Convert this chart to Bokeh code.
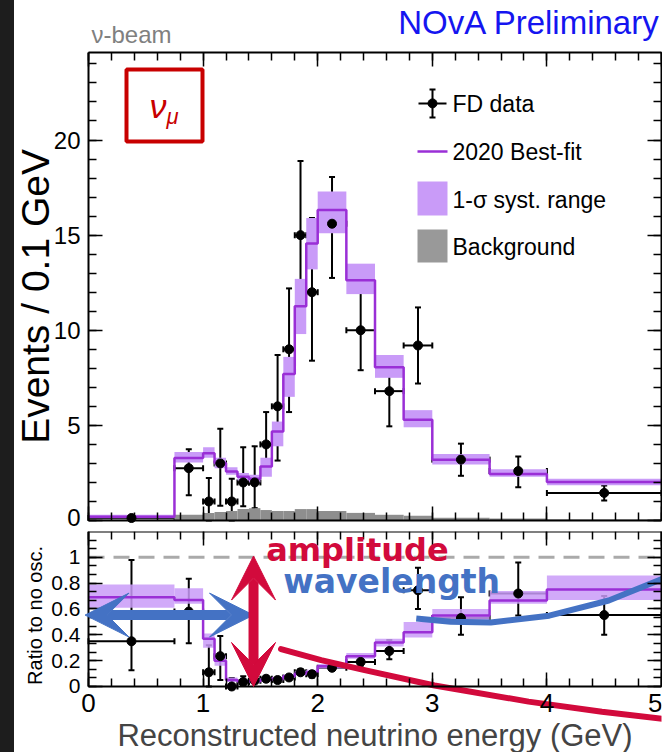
import numpy as np
from bokeh.plotting import figure
from bokeh.models import (ColumnDataSource, Whisker, TeeHead, Arrow, VeeHead, Label,
                          LinearAxis, FixedTicker, Div)
from bokeh.core.properties import value
from bokeh.layouts import row, column
from bokeh.embed import file_html
from bokeh.resources import INLINE

# ---------------- data ----------------
bin_edges = [0.0, 0.75, 1.0, 1.1, 1.2, 1.3, 1.4, 1.5, 1.6, 1.7, 1.8, 1.9, 2.0,
             2.25, 2.5, 2.75, 3.0, 3.5, 4.0, 5.0]
bestfit = [0.2, 3.28, 3.54, 3.02, 2.58, 2.3, 2.2, 2.84, 4.68, 7.7, 11.26, 14.56,
           16.32, 12.63, 8.05, 5.3, 3.19, 2.44, 2.02]
syst_lo = [0.12, 3.05, 3.3, 2.75, 2.4, 2.1, 2.0, 2.3, 3.9, 6.5, 9.8, 13.2,
           15.1, 11.9, 7.5, 4.9, 2.95, 2.3, 1.85]
syst_hi = [0.3, 3.6, 3.85, 3.3, 2.8, 2.5, 2.4, 3.3, 5.2, 8.6, 12.7, 15.9,
           17.3, 13.5, 8.7, 5.8, 3.5, 2.7, 2.2]
background = [0.05, 0.3, 0.4, 0.45, 0.5, 0.6, 0.65, 0.55, 0.5, 0.5, 0.6, 0.6,
              0.5, 0.4, 0.3, 0.25, 0.15, 0.1, 0.05]
data_val = [0.13, 2.75, 1.0, 3.0, 1.0, 2.0, 2.0, 4.0, 6.0, 9.0, 15.0, 12.0,
            15.6, 10.0, 6.8, 9.2, 3.2, 2.6, 1.45]
data_lo = [0.11, 1.33, 0.0, 0.78, 0.0, 0.75, 0.65, 2.4, 3.15, 5.7, 10.8, 8.4,
           12.75, 7.9, 4.95, 7.2, 2.35, 1.75, 1.05]
data_hi = [0.17, 3.75, 2.23, 4.82, 2.2, 3.85, 3.9, 5.7, 8.7, 12.2, 18.9, 15.9,
           18.05, 12.1, 8.6, 11.2, 4.04, 3.37, 1.84]

ratio_fit = [0.69, 0.67, 0.37, 0.20, 0.05, 0.04, 0.04, 0.05, 0.06, 0.08, 0.10, 0.11,
             0.157, 0.235, 0.34, 0.42, 0.55, 0.665, 0.75]
ratio_syst_lo = [0.61, 0.64, 0.30, 0.16, 0.035, 0.03, 0.03, 0.04, 0.045, 0.065, 0.085,
                 0.095, 0.14, 0.215, 0.31, 0.38, 0.50, 0.64, 0.67]
ratio_syst_hi = [0.79, 0.76, 0.41, 0.24, 0.07, 0.055, 0.055, 0.065, 0.075, 0.095, 0.12,
                 0.13, 0.175, 0.26, 0.37, 0.50, 0.60, 0.74, 0.86]
ratio_val = [0.35, 0.58, 0.11, 0.235, 0.0, 0.035, 0.045, 0.06, 0.05, 0.07, 0.11, 0.095,
             0.145, 0.19, 0.275, 0.745, 0.53, 0.72, 0.553]
ratio_lo = [0.125, 0.335, 0.0, 0.05, 0.0, 0.01, 0.03, 0.04, 0.035, 0.05, 0.09, 0.07,
            0.13, 0.16, 0.21, 0.60, 0.40, 0.55, 0.40]
ratio_hi = [0.98, 0.835, 0.32, 0.39, 0.065, 0.08, 0.06, 0.08, 0.07, 0.09, 0.135, 0.12,
            0.16, 0.23, 0.36, 0.92, 0.69, 0.96, 0.70]

# annotation curves (in GeV / ratio units)
amp_curve_x = [1.68, 2.03, 2.38, 3.02, 3.84, 4.48, 5.02]
amp_curve_y = [0.29, 0.204, 0.133, 0.008, -0.117, -0.196, -0.251]
wl_curve_x = [2.86, 3.16, 3.51, 4.02, 4.54, 5.02]
wl_curve_y = [0.527, 0.501, 0.496, 0.548, 0.666, 0.838]

x_major = [0, 1, 2, 3, 4, 5]
y_major_top = [0, 5, 10, 15, 20]
y_major_bot = [0, 0.2, 0.4, 0.6, 0.8, 1.0]

# ---------------- style ----------------
PURPLE = "#9a2fd6"
BAND = "#c99bf8"
GRAY = "#8e8e8e"
RED = "#d20a3c"
BLUE = "#4472c4"
FONT = "Liberation Sans"
PXU = 114.6            # pixels per GeV
FRAME_LEFT = 14 + 4    # page x where every frame starts
X0 = -(88 - FRAME_LEFT) / PXU   # so that E = 0 falls at page x = 88
TOP_PXV = 19.02        # pixels per event unit in the top panel

left = np.array(bin_edges[:-1])
right = np.array(bin_edges[1:])
centers = (left + right) / 2


def step_xy(edges, vals):
    xs, ys = [], []
    for i, v in enumerate(vals):
        xs += [edges[i], edges[i + 1]]
        ys += [v, v]
    return xs, ys


def style_axis(ax, label_size=None, ticks=None):
    ax.axis_line_width = 2
    ax.axis_line_color = "black"
    ax.major_tick_in = 14
    ax.major_tick_out = 0
    ax.minor_tick_in = 8
    ax.minor_tick_out = 0
    ax.major_tick_line_width = 1.5
    ax.minor_tick_line_width = 1.5
    ax.major_tick_line_color = "black"
    ax.minor_tick_line_color = "black"
    if label_size is None:
        ax.major_label_overrides = {t: "" for t in ticks}
        ax.major_label_text_font_size = "2px"
        ax.major_label_standoff = 0
    else:
        ax.major_label_text_font_size = label_size
        ax.major_label_text_font = FONT
        ax.major_label_text_color = "black"


def base_fig(height, y_range, top, bottom):
    f = figure(width=648, height=height, x_range=(X0, 5), y_range=y_range, title=None,
               output_backend="svg", toolbar_location=None,
               x_axis_location=None, y_axis_location=None,
               min_border_left=4, min_border_right=1, min_border_top=top,
               min_border_bottom=bottom)
    f.grid.visible = False
    f.outline_line_color = None
    f.background_fill_color = "white"
    f.border_fill_color = "white"
    return f


x_ticker = FixedTicker(ticks=x_major, minor_ticks=[k * 0.2 for k in range(26)])
ytop_ticker = FixedTicker(ticks=y_major_top, minor_ticks=list(range(25)))
ybot_ticker = FixedTicker(ticks=y_major_bot, minor_ticks=[k * 0.2 / 3 for k in range(18)])


def tx(px):
    return (px - 88) / PXU


# ---------------- header strip (texts above the frame) ----------------
ph = base_fig(47, (0, 47), 0, 0)
ph.add_layout(Label(x=tx(91), y=47 - 33.5, text="ν-beam", text_font=FONT,
                    text_font_size="24px", text_color="#808080",
                    text_baseline="middle"))
ph.add_layout(Label(x=tx(660), y=47 - 22, text="NOvA Preliminary", text_font=FONT,
                    text_font_size="33px", text_color="#1515f0",
                    text_baseline="middle", text_align="right"))

# ---------------- top panel ----------------
# page y 47..531; frame 52..531; events = 0 at page y 520
p1 = base_fig(484, (-(531 - 520) / TOP_PXV, 24.6), 5, 0)


def ty(py):
    return (520 - py) / TOP_PXV


ax = LinearAxis(ticker=x_ticker, fixed_location=0, bounds=(0, 5))
style_axis(ax, None, x_major)
p1.add_layout(ax, "below")
ax = LinearAxis(ticker=x_ticker, bounds=(0, 5))
style_axis(ax, None, x_major)
p1.add_layout(ax, "above")
ax = LinearAxis(ticker=ytop_ticker, fixed_location=0, bounds=(0, 24.6))
style_axis(ax, None, y_major_top)
p1.add_layout(ax, "left")
ax = LinearAxis(ticker=ytop_ticker, bounds=(0, 24.6))
style_axis(ax, None, y_major_top)
p1.add_layout(ax, "right")

# tick labels of the event axis (the lowest one nudged up a little to stay in view)
ytop_label_pos = [max(v, 0.16) for v in y_major_top]
p1.text(x=[tx(80)] * len(y_major_top), y=ytop_label_pos,
        text=[f"{v:g}" for v in y_major_top], text_font=value(FONT),
        text_font_size="24px", text_align="right", text_baseline="middle",
        text_color="black")
p1.add_layout(Label(x=tx(35), y=ty(296), text="Events / 0.1 GeV", text_font=FONT,
                    text_font_size="39px", text_color="black", angle=np.pi / 2,
                    text_align="center", text_baseline="middle"))

p1.quad(left=left, right=right, bottom=0, top=background, fill_color=GRAY,
        line_color=None)
p1.quad(left=left, right=right, bottom=syst_lo, top=syst_hi, fill_color=BAND,
        line_color=None)
sx_, sy_ = step_xy(bin_edges, bestfit)
p1.line(sx_, sy_, line_color=PURPLE, line_width=2.5)

src1 = ColumnDataSource(dict(x=centers, y=data_val, lo=data_lo, hi=data_hi,
                             xl=left, xr=right))
p1.add_layout(Whisker(source=src1, base="x", lower="lo", upper="hi", dimension="height",
                      line_color="black", line_width=2,
                      upper_head=TeeHead(size=6, line_width=2),
                      lower_head=TeeHead(size=6, line_width=2)))
p1.add_layout(Whisker(source=src1, base="y", lower="xl", upper="xr", dimension="width",
                      line_color="black", line_width=2,
                      upper_head=TeeHead(size=6, line_width=2),
                      lower_head=TeeHead(size=6, line_width=2)))
p1.scatter("x", "y", source=src1, size=9, color="black")

# nu_mu box
p1.quad(left=[tx(126)], right=[tx(202)], bottom=[ty(141)], top=[ty(69)],
        fill_color=None, line_color="#c80000", line_width=4)
p1.add_layout(Label(x=tx(149), y=ty(106), text="ν", text_font=FONT,
                    text_font_style="italic", text_font_size="34px",
                    text_color="#c80000", text_baseline="middle"))
p1.add_layout(Label(x=tx(166), y=ty(116), text="μ", text_font=FONT,
                    text_font_style="italic", text_font_size="22px",
                    text_color="#c80000", text_baseline="middle"))

# legend
leg_src = ColumnDataSource(dict(x=[tx(432)], y=[ty(103)], lo=[ty(117)], hi=[ty(89)],
                                xl=[tx(418)], xr=[tx(446)]))
p1.add_layout(Whisker(source=leg_src, base="x", lower="lo", upper="hi", dimension="height",
                      line_color="black", line_width=2,
                      upper_head=TeeHead(size=6, line_width=2),
                      lower_head=TeeHead(size=6, line_width=2)))
p1.add_layout(Whisker(source=leg_src, base="y", lower="xl", upper="xr", dimension="width",
                      line_color="black", line_width=2, upper_head=None, lower_head=None))
p1.scatter("x", "y", source=leg_src, size=9, color="black")
p1.line([tx(417), tx(447)], [ty(151), ty(151)], line_color=PURPLE, line_width=2.5)
p1.quad(left=[tx(417)], right=[tx(447)], bottom=[ty(215)], top=[ty(181)],
        fill_color=BAND, line_color=None)
p1.quad(left=[tx(417)], right=[tx(447)], bottom=[ty(262)], top=[ty(229)],
        fill_color="#999999", line_color=None)
for txt, py in (("FD data", 104), ("2020 Best-fit", 152), ("1-σ syst. range", 200),
                ("Background", 247)):
    p1.add_layout(Label(x=tx(452), y=ty(py), text=txt, text_font=FONT,
                        text_font_size="23px", text_color="black",
                        text_baseline="middle"))

# ---------------- bottom panel ----------------
# page y 531..752; frame 531..752; ratio 0 at page y 686, ratio 1 near 557
p2 = base_fig(221, (-0.511, 1.2), 0, 0)

xb = LinearAxis(ticker=x_ticker, fixed_location=0, bounds=(0, 5))
style_axis(xb, "26px")
xb.major_label_standoff = 8
xb.axis_label = "Reconstructed neutrino energy (GeV)"
xb.axis_label_text_font = FONT
xb.axis_label_text_font_size = "31px"
xb.axis_label_text_font_style = "normal"
xb.axis_label_standoff = 2
p2.add_layout(xb, "below")
ax = LinearAxis(ticker=ybot_ticker, fixed_location=0, bounds=(0, 1.2))
style_axis(ax, None, y_major_bot)
p2.add_layout(ax, "left")
ax = LinearAxis(ticker=x_ticker, fixed_location=1.2, bounds=(0, 5))
style_axis(ax, None, x_major)
p2.add_layout(ax, "above")
ax = LinearAxis(ticker=ybot_ticker, bounds=(0, 1.2))
style_axis(ax, None, y_major_bot)
p2.add_layout(ax, "right")

p2.text(x=[tx(80)] * len(y_major_bot), y=y_major_bot,
        text=[f"{v:g}" for v in y_major_bot], text_font=value(FONT),
        text_font_size="21px", text_align="right", text_baseline="middle",
        text_color="black")
p2.add_layout(Label(x=tx(34), y=0.55, text="Ratio to no osc.", text_font=FONT,
                    text_font_size="20px", text_color="black", angle=np.pi / 2,
                    text_align="center", text_baseline="middle"))

p2.line([0, 5], [1.0, 1.0], line_color="#aaaaaa", line_width=3, line_dash="16 9")
p2.quad(left=left, right=right, bottom=ratio_syst_lo, top=ratio_syst_hi,
        fill_color=BAND, fill_alpha=0.85, line_color=None)
rx_, ry_ = step_xy(bin_edges, ratio_fit)
p2.line(rx_, ry_, line_color=PURPLE, line_width=2.5)

src2 = ColumnDataSource(dict(x=centers, y=ratio_val, lo=ratio_lo, hi=ratio_hi,
                             xl=left, xr=right))
p2.add_layout(Whisker(source=src2, base="x", lower="lo", upper="hi", dimension="height",
                      line_color="black", line_width=2,
                      upper_head=TeeHead(size=6, line_width=2),
                      lower_head=TeeHead(size=6, line_width=2)))
p2.add_layout(Whisker(source=src2, base="y", lower="xl", upper="xr", dimension="width",
                      line_color="black", line_width=2,
                      upper_head=TeeHead(size=6, line_width=2),
                      lower_head=TeeHead(size=6, line_width=2)))
p2.scatter("x", "y", source=src2, size=9, color="black")

# annotations
p2.line(wl_curve_x, wl_curve_y, line_color=BLUE, line_width=6)
p2.line(amp_curve_x, amp_curve_y, line_color=RED, line_width=6, line_cap="round")
p2.add_layout(Arrow(x_start=-0.03, y_start=0.553, x_end=1.44, y_end=0.553,
                    line_color=BLUE, line_width=10,
                    start=VeeHead(size=44, fill_color=BLUE, line_color=BLUE),
                    end=VeeHead(size=44, fill_color=BLUE, line_color=BLUE)))
p2.add_layout(Arrow(x_start=1.44, y_start=0.0, x_end=1.44, y_end=1.01,
                    line_color=RED, line_width=10,
                    start=VeeHead(size=44, fill_color=RED, line_color=RED),
                    end=VeeHead(size=44, fill_color=RED, line_color=RED)))
p2.add_layout(Label(x=1.55, y=1.055, text="amplitude", text_font="DejaVu Sans",
                    text_font_style="bold", text_font_size="32px", text_color=RED,
                    text_baseline="middle"))
p2.add_layout(Label(x=1.70, y=0.815, text="wavelength", text_font="DejaVu Sans",
                    text_font_style="bold", text_font_size="33px", text_color=BLUE,
                    text_baseline="middle"))

strip = Div(width=14, height=752, margin=(0, 0, 0, 0),
            styles={"background-color": "#1d1d1d"})
layout = row(strip, column(ph, p1, p2))

open("out.html", "w").write(file_html(layout, INLINE))
